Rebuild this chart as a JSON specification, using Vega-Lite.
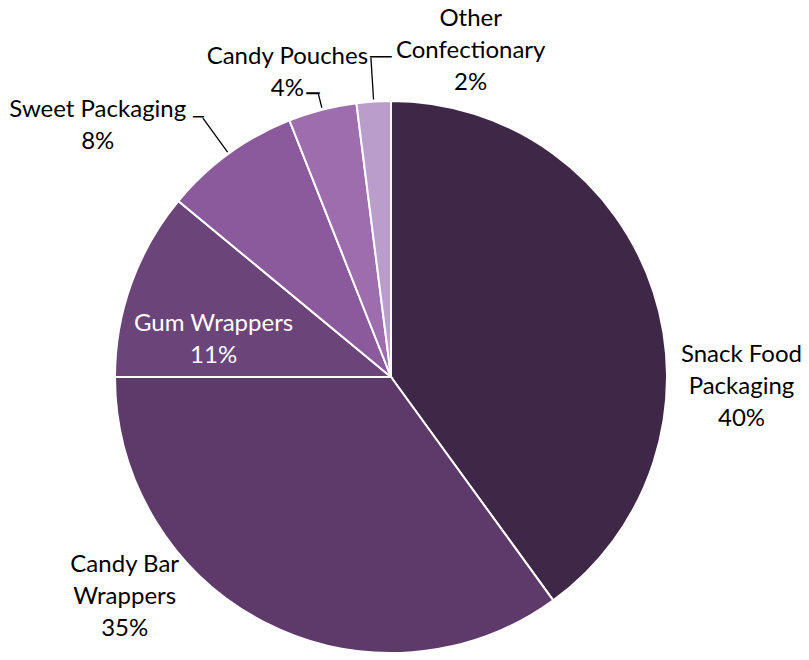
{
  "$schema": "https://vega.github.io/schema/vega-lite/v6.json",
  "width": 782,
  "height": 566,
  "autosize": {"type": "none"},
  "padding": {"left": 0, "top": 94, "right": 27, "bottom": 0},
  "background": "white",
  "config": {"view": {"stroke": null}, "text": {"font": "Lato", "fontSize": 24, "lineHeight": 32, "lineBreak": "\n", "baseline": "middle", "align": "center", "color": "#000"}},
  "data": {
    "values": [
      {"category": "Snack Food Packaging", "value": 40, "label": "Snack Food\nPackaging\n40%"},
      {"category": "Candy Bar Wrappers", "value": 35, "label": "Candy Bar\nWrappers\n35%"},
      {"category": "Gum Wrappers", "value": 11, "label": "Gum Wrappers\n11%"},
      {"category": "Sweet Packaging", "value": 8, "label": "Sweet Packaging\n8%"},
      {"category": "Candy Pouches", "value": 4, "label": "Candy Pouches\n4%"},
      {"category": "Other Confectionary", "value": 2, "label": "Other\nConfectionary\n2%"}
    ]
  },
  "encoding": {
    "theta": {"field": "value", "type": "quantitative", "stack": true},
    "order": {"field": "value", "type": "quantitative", "sort": "descending"}
  },
  "layer": [
    {
      "mark": {"type": "arc", "radius": 276, "stroke": "#ffffff", "strokeWidth": 2},
      "encoding": {
        "color": {
          "field": "category",
          "type": "nominal",
          "scale": {
            "domain": ["Snack Food Packaging", "Candy Bar Wrappers", "Gum Wrappers", "Sweet Packaging", "Candy Pouches", "Other Confectionary"],
            "range": ["#3F2748", "#5E3A6A", "#6B4579", "#8A5A9C", "#9D6DAE", "#BB9DCB"]
          },
          "legend": null
        }
      }
    },
    {
      "mark": {"type": "arc", "radius": 320, "radius2": 278, "padAngle": 3, "fill": "transparent", "stroke": "#000", "strokeWidth": 1.3},
      "encoding": {"strokeOpacity": {"condition": {"test": "datum.category === 'Sweet Packaging'", "value": 1}, "value": 0}}
    },
    {
      "mark": {"type": "arc", "radius": 292, "radius2": 278, "padAngle": 3, "fill": "transparent", "stroke": "#000", "strokeWidth": 1.3},
      "encoding": {"strokeOpacity": {"condition": {"test": "datum.category === 'Candy Pouches'", "value": 1}, "value": 0}}
    },
    {
      "mark": {"type": "arc", "radius": 320, "radius2": 278, "padAngle": 3, "fill": "transparent", "stroke": "#000", "strokeWidth": 1.3},
      "encoding": {"strokeOpacity": {"condition": {"test": "datum.category === 'Other Confectionary'", "value": 1}, "value": 0}}
    },
    {
      "mark": {"type": "text", "radius": 320, "align": "right", "font": "DejaVu Sans", "fontSize": 18, "lineHeight": 18, "dx": 1},
      "encoding": {"text": {"condition": {"test": "datum.category === 'Sweet Packaging'", "value": "─"}, "value": ""}}
    },
    {
      "mark": {"type": "text", "radius": 292, "align": "right", "font": "DejaVu Sans", "fontSize": 22, "lineHeight": 22, "dx": 1},
      "encoding": {"text": {"condition": {"test": "datum.category === 'Candy Pouches'", "value": "─"}, "value": ""}}
    },
    {
      "mark": {"type": "text", "radius": 320, "align": "left", "font": "DejaVu Sans", "fontSize": 18, "lineHeight": 18, "dx": -1},
      "encoding": {"text": {"condition": {"test": "datum.category === 'Other Confectionary'", "value": "──"}, "value": ""}}
    },
    {
      "mark": {"type": "text", "radius": 276, "dx": 88, "dy": 63},
      "encoding": {"text": {"condition": {"test": "datum.category === 'Snack Food Packaging'", "field": "label"}, "value": ""}}
    },
    {
      "mark": {"type": "text", "radius": 276, "dx": -141, "dy": -58},
      "encoding": {"text": {"condition": {"test": "datum.category === 'Candy Bar Wrappers'", "field": "label"}, "value": ""}}
    },
    {
      "mark": {"type": "text", "radius": 180, "dx": -8, "dy": 8, "color": "#ffffff"},
      "encoding": {"text": {"condition": {"test": "datum.category === 'Gum Wrappers'", "field": "label"}, "value": ""}}
    },
    {
      "mark": {"type": "text", "radius": 276, "dx": -131, "dy": -44},
      "encoding": {"text": {"condition": {"test": "datum.category === 'Sweet Packaging'", "field": "label"}, "value": ""}}
    },
    {
      "mark": {"type": "text", "radius": 276, "dx": -35, "dy": -53},
      "encoding": {"text": {"condition": {"test": "datum.category === 'Candy Pouches'", "field": "label"}, "value": ""}}
    },
    {
      "mark": {"type": "text", "radius": 276, "dx": 97, "dy": -83},
      "encoding": {"text": {"condition": {"test": "datum.category === 'Other Confectionary'", "field": "label"}, "value": ""}}
    }
  ]
}
